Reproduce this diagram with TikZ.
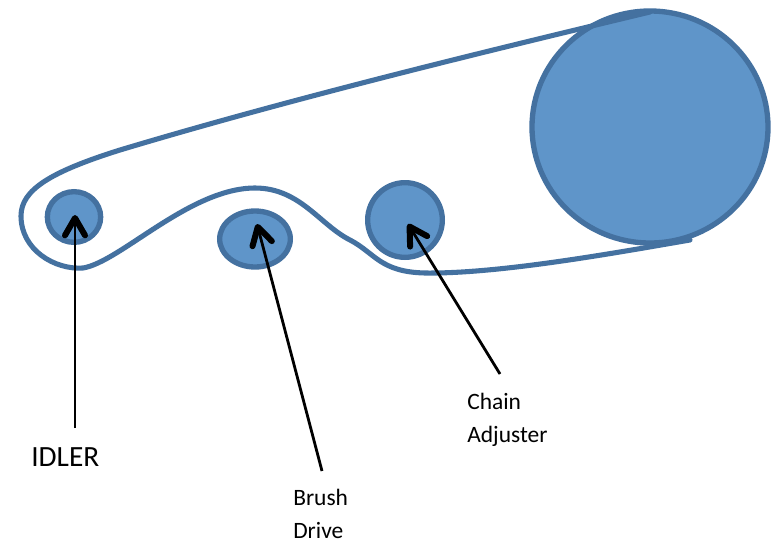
\documentclass[tikz,border=0pt]{standalone}
\usepackage{fontspec}
\setmainfont{Carlito}
\usetikzlibrary{arrows.meta,shapes.geometric}
\definecolor{pfill}{HTML}{5F95C9}
\definecolor{pline}{HTML}{4471A0}
\tikzset{
 x=0.75pt,y=-0.75pt,
 pulley/.style={ellipse,draw=pline,fill=pfill,line width=4pt,inner sep=0pt},
 belt/.style={draw=pline,line width=3.8pt,line cap=round,line join=round},
 pointer/.style={draw=black,line width=2.1pt,-{Straight Barb[length=13pt,width=15pt,line width=4.5pt,round]}},
 lab/.style={font=\fontsize{17.6}{17.6}\selectfont,align=left,anchor=north west,inner sep=0pt},
}
\begin{document}
\begin{tikzpicture}
\useasboundingbox (0,0) rectangle (774,543);
\fill[white] (0,0) rectangle (774,543);
\coordinate (b0) at (690,240);
\coordinate (b1) at (650,12);
\node[pulley,minimum width=177pt,minimum height=174pt] (drive) at (650,127) {};
\draw[belt] (b1) .. controls (500,48) and (300,96) .. (120,150)
 .. controls (50,172) and (21,190) .. (21,216)
 .. controls (21,250) and (55,270) .. (83,268)
 .. controls (120,262) and (190,188) .. (255,188)
 .. controls (300,188) and (320,225) .. (350,240)
 .. controls (375,253) and (380,272) .. (425,273)
 .. controls (500,274) and (620,252) .. (b0);
\node[pulley,minimum width=40pt,minimum height=38pt] (idler) at (74,217) {};
\node[pulley,minimum width=53pt,minimum height=42pt] (brush) at (255,239) {};
\node[pulley,minimum width=56pt,minimum height=56pt] (adj) at (405,220) {};
\node[lab,font=\fontsize{22}{22}\selectfont] (t1) at (31,447) {IDLER};
\node[lab] (t2) at (293,489) {Brush};
\node[lab] (t3) at (293,522) {Drive};
\node[lab] (t4) at (467,393) {Chain};
\node[lab] (t5) at (467,426) {Adjuster};
\coordinate (p1) at (75,428);
\coordinate (p2) at (322,471);
\coordinate (p3) at (500,374);
\draw[pointer] (p1) -- (75,215);
\draw[pointer] (p2) -- (257,224);
\draw[pointer] (p3) -- (408,224);
\end{tikzpicture}
\end{document}
